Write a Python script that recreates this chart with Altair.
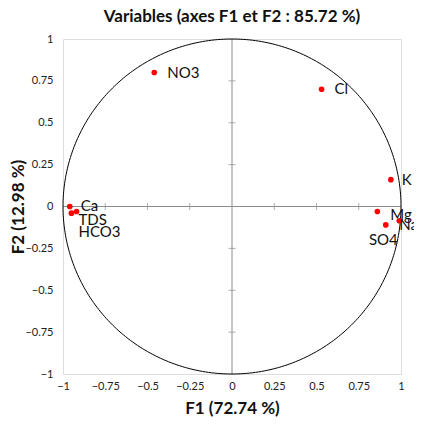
import altair as alt
import pandas as pd

names = ["NO3", "Cl", "K", "Mg", "Na", "SO4", "Ca", "TDS", "HCO3"]
f1 = [-0.46, 0.53, 0.94, 0.86, 0.99, 0.91, -0.96, -0.95, -0.92]
f2 = [0.80, 0.70, 0.16, -0.03, -0.085, -0.11, 0.0, -0.04, -0.03]
ticks = [-1, -0.75, -0.5, -0.25, 0, 0.25, 0.5, 0.75, 1]
inner_ticks = [-0.75, -0.5, -0.25, 0.25, 0.5, 0.75]

# label placement (style): dx, dy, align per variable
label_style = {
    "NO3": (13, 0, "left"), "Cl": (13, 0, "left"), "K": (11, 0, "left"),
    "Mg": (13, 3, "left"), "Na": (0, 4, "left"), "SO4": (12, 15, "right"),
    "Ca": (11, -1, "left"), "TDS": (7, 7, "left"), "HCO3": (2, 20, "left"),
}

df = pd.DataFrame({"name": names, "F1": f1, "F2": f2})
FONT = "Lato"

xs = alt.Scale(domain=[-1, 1], nice=False, zero=False)
ys = alt.Scale(domain=[-1, 1], nice=False, zero=False)

xaxis = alt.Axis(values=ticks, grid=False, ticks=False, domain=False, labelFontSize=11,
                 labelColor="#222", labelFont=FONT, title="F1 (72.74 %)", titleFont=FONT,
                 titleFontSize=17, titleFontWeight="bold", titleColor="#111", labelPadding=6,
                 titlePadding=9, labelFlush=False,
                 labelExpr="datum.value == 0 ? '0' : format(datum.value, '')")
yaxis = alt.Axis(values=ticks, grid=False, ticks=False, domain=False, labelFontSize=11,
                 labelColor="#222", labelFont=FONT, title="F2 (12.98 %)", titleFont=FONT,
                 titleFontSize=17, titleFontWeight="bold", titleColor="#111", labelPadding=10,
                 titlePadding=-3, labelFlush=False,
                 labelExpr="datum.value == 0 ? '0' : format(datum.value, '')")

circle = alt.Chart(alt.sequence(0, 361, 1, as_="deg")).transform_calculate(
    cx="cos(datum.deg*PI/180)", cy="sin(datum.deg*PI/180)"
).mark_line(color="black", strokeWidth=1).encode(
    x=alt.X("cx:Q", scale=xs, axis=xaxis),
    y=alt.Y("cy:Q", scale=ys, axis=yaxis),
    order="deg:Q",
)

zero_v = alt.Chart(pd.DataFrame({"v": [0]})).mark_rule(color="#8c8c8c", strokeWidth=1).encode(
    x=alt.X("v:Q", scale=xs))
zero_h = alt.Chart(pd.DataFrame({"v": [0]})).mark_rule(color="#8c8c8c", strokeWidth=1).encode(
    y=alt.Y("v:Q", scale=ys))

tdf = pd.DataFrame({"t": inner_ticks, "z": [0] * len(inner_ticks)})
xt = alt.Chart(tdf).mark_tick(color="#8c8c8c", orient="vertical", size=7, thickness=1).encode(
    x=alt.X("t:Q", scale=xs), y=alt.Y("z:Q", scale=ys))
yt = alt.Chart(tdf).mark_tick(color="#8c8c8c", orient="horizontal", size=7, thickness=1).encode(
    y=alt.Y("t:Q", scale=ys), x=alt.X("z:Q", scale=xs))

pts = alt.Chart(df).mark_circle(color="#ff0000", opacity=1, size=32).encode(
    x=alt.X("F1:Q", scale=xs), y=alt.Y("F2:Q", scale=ys))

layers = [zero_v, zero_h, xt, yt, circle, pts]
for n in names:
    dx, dy, al = label_style[n]
    layers.append(
        alt.Chart(df).transform_filter(alt.datum.name == n).mark_text(
            dx=dx, dy=dy, align=al, baseline="middle", font=FONT, fontSize=15, color="#111"
        ).encode(x=alt.X("F1:Q", scale=xs), y=alt.Y("F2:Q", scale=ys), text="name:N")
    )

chart = alt.layer(*layers).properties(
    width=338, height=335,
    title=alt.TitleParams("Variables (axes F1 et F2 : 85.72 %)", font=FONT, fontSize=17,
                          fontWeight="bold", color="#111", offset=7, anchor="middle"),
    autosize=alt.AutoSizeParams(type="none"),
    padding={"left": 55, "top": 31, "right": 13, "bottom": 43},
).configure_view(stroke="#a6a6a6", strokeWidth=1).configure(background="white")

chart.save("out.html", embed_options={"renderer": "svg", "actions": False})
